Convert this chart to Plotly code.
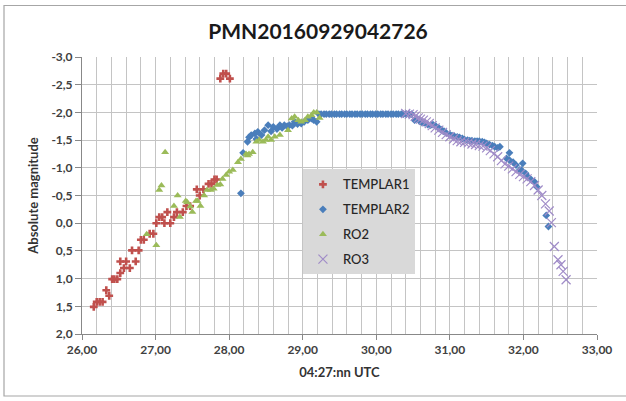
import plotly.graph_objects as go

# ---------------- data ----------------
t1_x = [26.16, 26.20, 26.24, 26.28, 26.33, 26.37, 26.41, 26.44, 26.48, 26.52, 26.52, 26.57,
        26.60, 26.65, 26.68, 26.73, 26.77, 26.80, 26.84, 26.92, 26.97, 27.01, 27.05, 27.09,
        27.12, 27.16, 27.20, 27.25, 27.29, 27.37, 27.42, 27.47, 27.56, 27.60, 27.65, 27.72,
        27.76, 27.80, 27.83, 27.88, 27.92, 27.96, 28.01]
t1_y = [1.51, 1.42, 1.42, 1.42, 1.21, 1.31, 1.01, 1.01, 1.01, 0.90, 0.69, 0.81,
        0.69, 0.81, 0.49, 0.69, 0.49, 0.30, 0.30, 0.19, 0.19, 0.00, -0.11, -0.11,
        0.00, -0.20, 0.00, -0.11, -0.20, -0.20, -0.31, -0.31, -0.61, -0.50, -0.61, -0.71,
        -0.71, -0.79, -0.79, -2.61, -2.70, -2.70, -2.61]

t2_x = [28.16, 28.19, 28.25, 28.27, 28.30, 28.35, 28.37, 28.39, 28.44, 28.48, 28.53, 28.57,
        28.60, 28.65, 28.69, 28.72, 28.75, 28.79, 28.82, 28.86, 28.89, 28.93, 28.98, 29.02,
        29.07, 29.12, 29.15, 29.19,
        29.22, 29.25, 29.29, 29.32, 29.36, 29.39, 29.43, 29.46, 29.50, 29.53, 29.57, 29.60,
        29.64, 29.67, 29.71, 29.74, 29.78, 29.81, 29.85, 29.88, 29.92, 29.95, 29.99, 30.02,
        30.06, 30.09, 30.13, 30.16, 30.20, 30.23, 30.27, 30.30, 30.34, 30.37, 30.41, 30.44,
        30.48,
        30.52, 30.56, 30.59, 30.62, 30.65, 30.70, 30.74, 30.77, 30.81, 30.85, 30.88, 30.92,
        30.95, 31.00, 31.03, 31.06, 31.10, 31.13, 31.17, 31.20, 31.24, 31.27, 31.30, 31.34,
        31.37, 31.40, 31.44, 31.47, 31.50, 31.54, 31.58, 31.61, 31.65, 31.68, 31.77, 31.81,
        31.81, 31.86, 31.90, 31.95, 31.97, 31.99, 32.03, 32.06, 32.11, 32.15, 32.18, 32.31,
        32.34]
t2_y = [-0.54, -1.27, -1.47, -1.55, -1.59, -1.62, -1.52, -1.65, -1.59, -1.68, -1.77, -1.66,
        -1.74, -1.70, -1.77, -1.72, -1.77, -1.75, -1.77, -1.76, -1.83, -1.79, -1.80, -1.83,
        -1.86, -1.89, -1.86, -1.83,
        -1.97, -1.97, -1.97, -1.97, -1.97, -1.97, -1.97, -1.97, -1.97, -1.97, -1.97, -1.97,
        -1.97, -1.97, -1.97, -1.97, -1.97, -1.97, -1.97, -1.97, -1.97, -1.97, -1.97, -1.97,
        -1.97, -1.97, -1.97, -1.97, -1.97, -1.97, -1.97, -1.97, -1.97, -1.97, -1.97, -1.97,
        -1.97,
        -1.86, -1.88, -1.84, -1.82, -1.81, -1.78, -1.77, -1.78, -1.75, -1.72, -1.69, -1.66,
        -1.63, -1.60, -1.58, -1.57, -1.56, -1.55, -1.53, -1.51, -1.50, -1.49, -1.49, -1.48,
        -1.48, -1.48, -1.47, -1.46, -1.44, -1.42, -1.40, -1.38, -1.36, -1.38, -1.17, -1.27,
        -1.14, -1.10, -1.05, -0.96, -0.96, -1.08, -0.90, -0.84, -0.78, -0.75, -0.66, -0.14,
        0.06]

ro2_x = [26.88, 27.01, 27.05, 27.08, 27.13, 27.25, 27.30, 27.33, 27.41, 27.43, 27.47, 27.50,
         27.55, 27.57, 27.61, 27.66, 27.70, 27.75, 27.79, 27.84, 27.88, 27.91, 27.96, 28.00,
         28.05, 28.12, 28.16, 28.23, 28.25, 28.27, 28.32, 28.37, 28.41, 28.46, 28.50, 28.53,
         28.57, 28.62, 28.69, 28.80, 28.85, 28.89, 28.94, 28.98, 29.03, 29.07, 29.12, 29.15,
         29.19, 29.23]
ro2_y = [0.20, 0.40, -0.60, -0.68, -1.28, -0.31, -0.50, -0.11, -0.40, -0.38, -0.30, -0.20,
         -0.40, -0.40, -0.31, -0.50, -0.60, -0.60, -0.62, -0.69, -0.70, -0.80, -0.87, -0.93,
         -0.96, -1.10, -1.16, -1.25, -1.22, -1.25, -1.28, -1.47, -1.50, -1.47, -1.50, -1.56,
         -1.50, -1.56, -1.59, -1.68, -1.89, -1.92, -1.86, -1.83, -1.86, -1.92, -1.95, -2.00,
         -2.00, -1.90]

ro3_x = [30.40, 30.45, 30.50, 30.53, 30.57, 30.60, 30.64, 30.68, 30.72, 30.76, 30.80, 30.85,
         30.90, 30.95, 31.00, 31.05, 31.10, 31.15, 31.20, 31.25, 31.30, 31.35, 31.40, 31.45,
         31.50, 31.55, 31.60, 31.65, 31.70, 31.75, 31.80, 31.85, 31.90, 31.95, 32.00, 32.05,
         32.10, 32.15, 32.20, 32.25, 32.30, 32.35, 32.38, 32.42, 32.47, 32.51, 32.54, 32.58]
ro3_y = [-1.98, -1.97, -1.96, -1.93, -1.90, -1.88, -1.86, -1.83, -1.80, -1.76, -1.72, -1.68,
         -1.64, -1.60, -1.56, -1.52, -1.49, -1.47, -1.46, -1.45, -1.43, -1.42, -1.40, -1.39,
         -1.36, -1.31, -1.25, -1.20, -1.13, -1.07, -1.03, -0.98, -0.93, -0.88, -0.84, -0.80,
         -0.75, -0.68, -0.60, -0.50, -0.35, -0.22, -0.01, 0.42, 0.66, 0.75, 0.87, 1.02]

x_tickvals = [26, 27, 28, 29, 30, 31, 32, 33]
x_ticktext = ["26,00", "27,00", "28,00", "29,00", "30,00", "31,00", "32,00", "33,00"]
y_tickvals = [-3, -2.5, -2, -1.5, -1, -0.5, 0, 0.5, 1, 1.5, 2]
y_ticktext = ["-3,0", "-2,5", "-2,0", "-1,5", "-1,0", "-0,5", "0,0", "0,5", "1,0", "1,5", "2,0"]

series_names = ["TEMPLAR1", "TEMPLAR2", "RO2", "RO3"]

# ---------------- figure ----------------
fig = go.Figure()
fig.add_trace(go.Scatter(x=t1_x, y=t1_y, mode="markers", name=series_names[0], legendgroup="a",
                         marker=dict(symbol="cross", size=6.5, color="#c0504d")))
fig.add_trace(go.Scatter(x=t2_x, y=t2_y, mode="markers", name=series_names[1], legendgroup="b",
                         marker=dict(symbol="diamond", size=6, color="#4a7ebb")))
fig.add_trace(go.Scatter(x=ro2_x, y=ro2_y, mode="markers", name=series_names[2], legendgroup="c",
                         marker=dict(symbol="triangle-up", size=7, color="#9bbb59")))
fig.add_trace(go.Scatter(x=ro3_x, y=ro3_y, mode="markers", name=series_names[3], legendgroup="d",
                         marker=dict(symbol="x-thin-open", size=9, color="#a08cc8",
                                     line=dict(width=1.2, color="#a08cc8"))))

tick_font = dict(family="Lato", size=12, color="#404040", weight="bold")
grid_c = "#c4c4c4"

fig.update_layout(
    width=626, height=401,
    margin=dict(l=82, r=29, t=57, b=67),
    paper_bgcolor="white", plot_bgcolor="white",
    title=dict(text="<b>PMN20160929042726</b>", x=0.508, xanchor="center", y=0.922, yanchor="middle",
               font=dict(family="Lato", size=21, color="#1a1a1a")),
    xaxis=dict(range=[26, 33], tickvals=x_tickvals, ticktext=x_ticktext,
               showgrid=True, gridcolor=grid_c, gridwidth=1,
               minor=dict(dtick=0.2, tick0=26, showgrid=True, gridcolor=grid_c, gridwidth=1),
               ticks="outside", ticklen=5, tickcolor="#888888",
               showline=True, linecolor="#888888", linewidth=1,
               zeroline=False, tickfont=tick_font,
               title=dict(text="<b>04:27:nn UTC</b>", standoff=11,
                          font=dict(family="Lato", size=13, color="#333333"))),
    yaxis=dict(range=[2, -3], tickvals=y_tickvals, ticktext=y_ticktext,
               showgrid=True, gridcolor=grid_c, gridwidth=1,
               ticks="outside", ticklen=6, tickcolor="#888888",
               showline=True, linecolor="#888888", linewidth=1,
               zeroline=False, tickfont=tick_font,
               title=dict(text="<b>Absolute magnitude</b>", standoff=9,
                          font=dict(family="Lato", size=13, color="#333333"))),
    legend=dict(x=0.429, y=0.594, xanchor="left", yanchor="top",
                bgcolor="#d9d9d9", borderwidth=0, tracegroupgap=5,
                font=dict(family="Lato", size=13, color="#262626", weight=500),
                itemwidth=30),
    showlegend=True,
)

# outer chart frame
fig.add_shape(type="rect", xref="paper", yref="paper",
              x0=(4 - 82) / 515, x1=(640 - 82) / 515,
              y0=(334.5 - 396.5) / 277, y1=(334.5 - 6) / 277,
              line=dict(color="#a6a6a6", width=1.2), fillcolor="rgba(0,0,0,0)", layer="below")

fig.write_html("out.html")
